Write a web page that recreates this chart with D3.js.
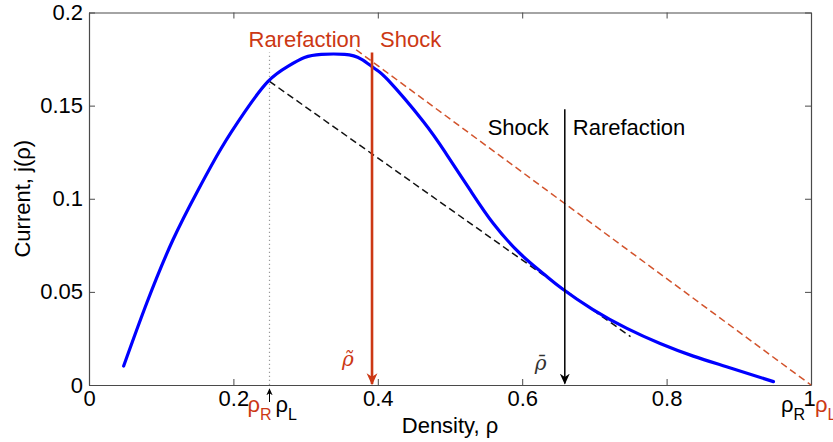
<!DOCTYPE html>
<html>
<head>
<meta charset="utf-8">
<script src="https://cdn.jsdelivr.net/npm/d3@7"></script>
<style>
  html, body { margin: 0; padding: 0; background: #fff; }
  svg { display: block; }
  text { font-family: "Liberation Sans", Arial, sans-serif; }
</style>
</head>
<body>
<svg id="chart" width="833" height="442"></svg>
<script>
// Current-density relation j(rho) sampled along the curve
const density = [0.048, 0.08, 0.116, 0.151, 0.183, 0.2155, 0.248, 0.276, 0.2985, 0.3217,
                 0.354, 0.377, 0.396, 0.414, 0.463, 0.495, 0.528, 0.560, 0.597,
                 0.629, 0.655, 0.698, 0.745, 0.791, 0.837, 0.883, 0.948];
const current = [0.0102, 0.044, 0.0777, 0.1046, 0.127, 0.1465, 0.163, 0.1712, 0.1758, 0.1775,
                 0.1775, 0.175, 0.1698, 0.1638, 0.1415, 0.124, 0.1046, 0.0867, 0.0706,
                 0.0599, 0.0518, 0.0405, 0.0304, 0.0223, 0.0155, 0.0098, 0.0018];

// Chords: black from rho_L = 0.25, red towards rho_L = 1
const blackChordRho = [0.25, 0.75];
const blackChordJ   = [0.163, 0.026];
const redChordRho   = [0.37, 1.0];
const redChordJ     = [0.18, 0.0];

// Special densities
const rhoLeft  = 0.25;   // left state (dotted line)
const rhoTilde = 0.392;  // red arrow
const rhoBar   = 0.659;  // black arrow
const leftLineTop  = 0.1785;
const tildeArrowTop = 0.1785;
const barArrowTop   = 0.148;

const xTicks = [0, 0.2, 0.4, 0.6, 0.8, 1];
const yTicks = [0, 0.05, 0.1, 0.15, 0.2];

const RED = "#cc3814";
const RED_DASH = "#d2532c";
const AXIS = "#4a4a4a";

const svg = d3.select("#chart");
const plotLeft = 89, plotRight = 811, plotTop = 12.5, plotBottom = 385;

const x = d3.scaleLinear().domain([0, 1]).range([plotLeft, plotRight]);
const y = d3.scaleLinear().domain([0, 0.2]).range([plotBottom, plotTop]);

// arrowhead markers
const defs = svg.append("defs");
function marker(id, color, size) {
  defs.append("marker")
    .attr("id", id)
    .attr("viewBox", "0 0 10 10")
    .attr("refX", 9).attr("refY", 5)
    .attr("markerWidth", size).attr("markerHeight", size)
    .attr("markerUnits", "userSpaceOnUse")
    .attr("orient", "auto")
    .append("path")
    .attr("d", "M0,0.5 L10,5 L0,9.5 L3,5 Z")
    .attr("fill", color);
}
marker("arrRed", RED, 12);
marker("arrBlack", "#000", 11);
marker("arrSmall", "#000", 7);

// axes with inward ticks, mirrored on top and right
const fmt = d => d3.format("")(d);
const gx = svg.append("g").attr("transform", `translate(0,${plotBottom})`)
  .call(d3.axisBottom(x).tickValues(xTicks).tickSize(-6).tickSizeOuter(0).tickPadding(5).tickFormat(fmt));
const gxt = svg.append("g").attr("transform", `translate(0,${plotTop})`)
  .call(d3.axisTop(x).tickValues(xTicks).tickSize(-6).tickSizeOuter(0).tickFormat(""));
const gy = svg.append("g").attr("transform", `translate(${plotLeft},0)`)
  .call(d3.axisLeft(y).tickValues(yTicks).tickSize(-6).tickSizeOuter(0).tickPadding(6).tickFormat(fmt));
const gyr = svg.append("g").attr("transform", `translate(${plotRight},0)`)
  .call(d3.axisRight(y).tickValues(yTicks).tickSize(-6).tickSizeOuter(0).tickFormat(""));

[gx, gxt, gy, gyr].forEach(g => {
  g.select(".domain").attr("stroke", AXIS).attr("stroke-width", 1.2);
  g.selectAll(".tick line").attr("stroke", AXIS).attr("stroke-width", 1);
  g.selectAll(".tick text").attr("fill", "#000").style("font-size", "22px")
    .style("font-family", '"Liberation Sans", Arial, sans-serif');
});
gx.selectAll(".tick text").attr("dy", "0.71em");
// the last density tick label sits a little left, between the two state labels
gx.selectAll(".tick text").filter(d => d === 1).attr("x", -2);

// dotted line at rho_L
svg.append("line")
  .attr("x1", x(rhoLeft)).attr("x2", x(rhoLeft))
  .attr("y1", y(0)).attr("y2", y(leftLineTop))
  .attr("stroke", "#9a9a9a").attr("stroke-width", 1.2)
  .attr("stroke-dasharray", "1.2,2.8");

// chords
const line = d3.line().x(d => x(d[0])).y(d => y(d[1]));
svg.append("path")
  .attr("d", line(d3.zip(redChordRho, redChordJ)))
  .attr("fill", "none").attr("stroke", RED_DASH).attr("stroke-width", 1.5)
  .attr("stroke-dasharray", "7,4");
svg.append("path")
  .attr("d", line(d3.zip(blackChordRho, blackChordJ)))
  .attr("fill", "none").attr("stroke", "#111").attr("stroke-width", 1.5)
  .attr("stroke-dasharray", "7,4");

// current curve
svg.append("path")
  .attr("d", d3.line().x(d => x(d[0])).y(d => y(d[1])).curve(d3.curveNatural)(d3.zip(density, current)))
  .attr("fill", "none").attr("stroke", "#0000ff").attr("stroke-width", 3.2)
  .attr("stroke-linecap", "round");

// vertical arrows
svg.append("line")
  .attr("x1", x(rhoTilde)).attr("x2", x(rhoTilde))
  .attr("y1", y(tildeArrowTop)).attr("y2", y(0) - 1)
  .attr("stroke", RED).attr("stroke-width", 2.6)
  .attr("marker-end", "url(#arrRed)");
svg.append("line")
  .attr("x1", x(rhoBar)).attr("x2", x(rhoBar))
  .attr("y1", y(barArrowTop)).attr("y2", y(0) - 1.5)
  .attr("stroke", "#000").attr("stroke-width", 1.5)
  .attr("marker-end", "url(#arrBlack)");

// small arrow under the axis at rho_L
svg.append("line")
  .attr("x1", x(rhoLeft)).attr("x2", x(rhoLeft))
  .attr("y1", 402).attr("y2", y(0) + 4)
  .attr("stroke", "#000").attr("stroke-width", 1)
  .attr("marker-end", "url(#arrSmall)");

// text helpers
function label(px, py, str, color, size, anchor = "start") {
  return svg.append("text").attr("x", px).attr("y", py)
    .attr("fill", color).attr("text-anchor", anchor)
    .style("font-size", size + "px").text(str);
}
function rhoSub(px, py, sub, color) {
  const t = svg.append("text").attr("x", px).attr("y", py).attr("fill", color)
    .style("font-size", "22px");
  t.append("tspan").text("ρ");
  t.append("tspan").attr("dy", 8).style("font-size", "16px").text(sub);
  return t;
}

// region labels
label(x(rhoTilde) - 11, 47, "Rarefaction", RED, 22, "end");
label(x(rhoTilde) + 8, 47, "Shock", RED, 22, "start");
label(x(rhoBar) - 16, 135, "Shock", "#000", 22, "end");
label(x(rhoBar) + 8, 135, "Rarefaction", "#000", 22, "start");

// special density labels
rhoSub(x(rhoLeft) - 22, 412, "R", RED);
rhoSub(x(rhoLeft) + 6, 412, "L", "#000");
rhoSub(x(1) - 30, 412, "R", "#000");
rhoSub(x(1) + 4, 412, "L", RED);

// rho tilde and rho bar
const serif = '"DejaVu Serif", "Liberation Serif", serif';
label(x(rhoTilde) - 30, 366, "ρ\u0303", RED, 20).style("font-style", "italic").style("font-family", serif);
label(x(rhoBar) - 30, 370, "ρ\u0304", "#333", 20).style("font-style", "italic").style("font-family", serif);

// axis titles
label((plotLeft + plotRight) / 2, 433, "Density, ρ", "#000", 22, "middle");
svg.append("text")
  .attr("transform", `translate(30,${(plotTop + plotBottom) / 2}) rotate(-90)`)
  .attr("text-anchor", "middle").attr("fill", "#000")
  .style("font-size", "22px").text("Current, j(ρ)");
</script>
</body>
</html>
